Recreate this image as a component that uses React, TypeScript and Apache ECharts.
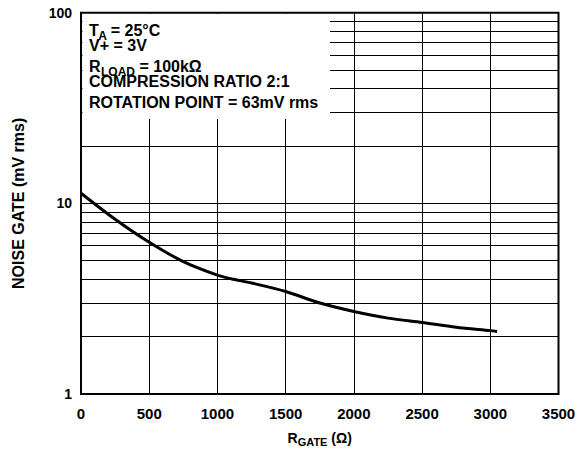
import React, { useEffect, useRef } from "react";
import * as echarts from "echarts";

const rGate = [0, 250, 500, 750, 1000, 1100, 1250, 1500, 1750, 2000, 2250, 2500, 2750, 3000, 3050];
const noiseGate = [11.3, 8.25, 6.25, 4.95, 4.2, 4.02, 3.82, 3.45, 3.0, 2.71, 2.5, 2.37, 2.24, 2.15, 2.13];
const minorGridValues = [2, 3, 4, 5, 6, 7, 8, 9, 20, 30, 40, 50, 60, 70, 80, 90];
const annotationLines = ["V+ = 3V", "COMPRESSION RATIO 2:1", "ROTATION POINT = 63mV rms"];

const FONT = "'Liberation Sans', Arial, Helvetica, sans-serif";

export default function App() {
  const ref = useRef<HTMLDivElement>(null);
  useEffect(() => {
    if (!ref.current) return;
    const chart = echarts.init(ref.current, null, { renderer: "svg" });
    const txt = (x: number, y: number, text: string, size = 16) => ({
      type: "text",
      x,
      y,
      z: 101,
      style: {
        text,
        fill: "#000",
        fontSize: size,
        fontWeight: "bold",
        fontFamily: FONT,
        align: "left",
        verticalAlign: "middle",
      },
    });
    chart.setOption({
      animation: false,
      backgroundColor: "#fff",
      grid: { left: 81, right: 20.5, top: 12.7, bottom: 58, show: true, borderColor: "#000", borderWidth: 2, containLabel: false },
      xAxis: {
        type: "value",
        min: 0,
        max: 3500,
        interval: 500,
        axisLine: { show: false },
        axisTick: { show: false },
        splitLine: { show: true, lineStyle: { color: "#000", width: 1 } },
        axisLabel: {
          fontSize: 15,
          fontWeight: "bold",
          fontFamily: FONT,
          color: "#000",
          margin: 12,
          showMaxLabel: true,
          showMinLabel: true,
          formatter: (v: number) => String(v),
        },
        name: "{r|R}{s|GATE}{r| (Ω)}",
        nameLocation: "middle",
        nameGap: 35,
        nameTextStyle: {
          rich: {
            r: { fontSize: 14, fontWeight: "bold", fontFamily: FONT, color: "#000", lineHeight: 18 },
            s: { fontSize: 11, fontWeight: "bold", fontFamily: FONT, color: "#000", lineHeight: 11, verticalAlign: "bottom" },
          },
        },
      },
      yAxis: {
        type: "log",
        min: 1,
        max: 100,
        logBase: 10,
        axisLine: { show: false },
        axisTick: { show: false },
        splitLine: { show: true, lineStyle: { color: "#000", width: 1 } },
        axisLabel: { fontSize: 14, fontWeight: "bold", fontFamily: FONT, color: "#000", margin: 9 },
        name: "NOISE GATE (mV rms)",
        nameLocation: "middle",
        nameGap: 55,
        nameTextStyle: { fontSize: 16, fontWeight: "bold", fontFamily: FONT, color: "#000" },
      },
      series: [
        {
          type: "line",
          data: [],
          silent: true,
          markLine: {
            silent: true,
            symbol: ["none", "none"],
            label: { show: false },
            lineStyle: { color: "#000", width: 1, type: "solid" },
            emphasis: { disabled: true },
            data: minorGridValues.map((v) => ({ yAxis: v })),
          },
        },
        {
          type: "line",
          data: rGate.map((x, i) => [x, noiseGate[i]]),
          smooth: 0.3,
          showSymbol: false,
          symbol: "none",
          lineStyle: { color: "#000", width: 3 },
          z: 5,
        },
      ],
      graphic: [
        { type: "rect", z: 100, shape: { x: 82.5, y: 14, width: 247.5, height: 105 }, style: { fill: "#fff" } },
        txt(89, 30, "T"),
        txt(98.3, 35.8, "A", 12),
        txt(106.3, 30, " = 25°C"),
        txt(89, 45.8, annotationLines[0]),
        txt(89, 66.7, "R"),
        txt(101, 72.2, "LOAD", 12),
        txt(135, 66.7, " = 100kΩ"),
        txt(89, 81.2, annotationLines[1]),
        txt(89, 102.8, annotationLines[2]),
      ],
    });
    return () => chart.dispose();
  }, []);
  return <div ref={ref} style={{ width: 579, height: 452, position: "absolute", left: 0, top: 0 }} />;
}
